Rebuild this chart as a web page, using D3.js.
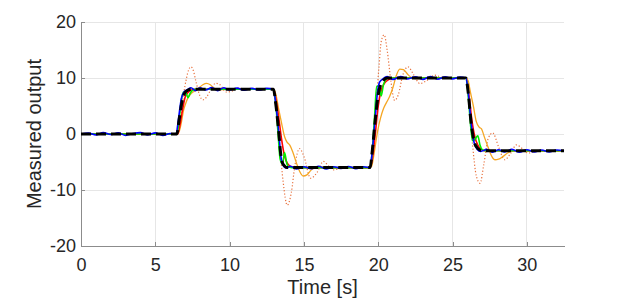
<!DOCTYPE html>
<html><head><meta charset="utf-8">
<script src="https://cdn.jsdelivr.net/npm/d3@7"></script>
<style>html,body{margin:0;padding:0;background:#fff;}svg{display:block;}</style>
</head><body>
<svg id="chart" width="623" height="301"></svg>
<script>
// ---- data ----
const xTicks = [0, 5, 10, 15, 20, 25, 30];
const yTicks = [-20, -10, 0, 10, 20];
const xLabel = "Time [s]";
const yLabel = "Measured output";

const refT = [0, 6.45, 6.6, 6.8, 7.0, 7.2, 7.5, 12.95, 13.1, 13.3, 13.45, 13.6, 13.9, 19.45, 19.6, 19.8, 20.0, 20.2, 20.6, 25.9, 26.05, 26.25, 26.45, 26.7, 27.0, 32.5];
const refY = [0, 0, 2.5, 5.8, 7.4, 7.85, 8, 8, 5.5, 0.5, -3.8, -5.4, -6, -6, -3, 2.5, 7, 9, 10, 10, 7.5, 2, -1.3, -2.6, -3, -3];

const measT = [0, 0.5, 1, 1.5, 2, 2.5, 3, 3.5, 4, 4.5, 5, 5.5, 6, 6.4, 6.55, 6.75, 6.95, 7.15, 7.4, 7.7, 8.0, 8.4, 8.8, 9.2, 9.6, 10.0, 10.5, 11, 11.5, 12, 12.5, 12.95, 13.1, 13.3, 13.45, 13.6, 13.8, 14.1, 14.5, 15, 15.5, 16, 16.5, 17, 17.5, 18, 18.5, 19, 19.45, 19.6, 19.8, 19.95, 20.1, 20.3, 20.6, 21, 21.5, 22, 22.5, 23, 23.5, 24, 24.5, 25, 25.5, 25.9, 26.05, 26.25, 26.45, 26.65, 26.9, 27.3, 27.7, 28.1, 28.5, 29, 29.5, 30, 30.5, 31, 31.5, 32, 32.5];
const measY = [0, 0.15, -0.15, 0.25, -0.1, 0.2, -0.25, 0.1, 0.25, -0.15, 0.2, -0.25, 0.1, 0, 2.5, 6.3, 7.6, 7.9, 8.25, 7.75, 8.25, 7.85, 8.3, 7.75, 8.25, 7.85, 8.2, 7.8, 8.15, 7.85, 8.15, 8, 5.5, 0.5, -4, -5.6, -6.1, -5.75, -6.25, -5.85, -6.2, -5.75, -6.25, -5.85, -6.15, -5.8, -6.2, -5.85, -6, -3, 3, 7.5, 9.3, 9.8, 10.25, 9.75, 10.25, 9.85, 10.2, 9.75, 10.25, 9.8, 10.2, 9.85, 10.15, 10, 7.5, 2, -1.5, -2.7, -3.1, -2.75, -3.25, -2.8, -3.2, -2.75, -3.25, -2.8, -3.2, -2.85, -3.2, -2.85, -3];

const redT = [0, 6.5, 6.65, 6.8, 7.0, 7.2, 7.4, 7.7, 12.95, 13.1, 13.3, 13.5, 13.7, 13.9, 14.2, 14.5, 19.45, 19.6, 19.8, 20.0, 20.2, 20.4, 20.7, 21.0, 25.9, 26.1, 26.3, 26.5, 26.7, 26.9, 27.2, 32.5];
const redY = [0, 0, 1.5, 3.8, 6.5, 7.4, 7.8, 8, 8, 6.5, 3, -1, -4, -5.3, -5.9, -6, -6, -4.5, 0, 5, 7.8, 9, 9.7, 10, 10, 7, 2.5, -0.5, -2, -2.7, -3, -3];

const greenT = [0, 6.45, 6.6, 6.75, 6.9, 7.05, 7.2, 7.35, 7.5, 7.7, 12.95, 13.1, 13.25, 13.4, 13.55, 13.7, 13.85, 14.0, 14.2, 19.45, 19.6, 19.75, 19.9, 20.05, 20.2, 20.35, 20.5, 20.7, 25.9, 26.05, 26.2, 26.35, 26.5, 26.7, 26.85, 27.0, 27.2, 32.5];
const greenY = [0, 0, 2.5, 6, 7.5, 7.4, 6.5, 7.3, 7.8, 8, 8, 5.5, 0.5, -4.5, -5.4, -3.3, -5.3, -5.9, -6, -6, -3, 3, 8.5, 8.6, 6.8, 8.8, 9.7, 10, 10, 7, 2, -1.2, -1.0, -0.3, -2.0, -2.8, -3, -3];

const orangeT = [0, 6.5, 6.6, 6.75, 6.9, 7.05, 7.2, 7.4, 7.6, 7.8, 8.0, 8.2, 8.45, 8.7, 8.95, 9.3, 9.8, 10.5,
  12.95, 13.1, 13.3, 13.5, 13.7, 13.85, 14.05, 14.25, 14.5, 14.7, 14.95, 15.2, 15.5, 15.8, 16.2, 16.8,
  19.45, 19.55, 19.75, 19.95, 20.15, 20.35, 20.55, 20.75, 21.0, 21.2, 21.45, 21.7, 22.0, 22.3, 22.7, 23.2,
  25.9, 26.05, 26.2, 26.4, 26.6, 26.8, 26.95, 27.15, 27.4, 27.6, 27.85, 28.1, 28.4, 28.7, 29.1, 29.6, 32.5];
const orangeY = [0, 0, 0.4, 2.0, 4.2, 5.5, 6.5, 7.2, 7.6, 7.9, 8.4, 8.8, 9.05, 8.8, 8.2, 7.9, 8.0, 8.0,
  8, 7.2, 4.5, 1.9, -0.5, -1.4, -2.0, -3.2, -5.2, -6.6, -7.5, -7.3, -6.4, -5.9, -5.9, -6,
  -6, -5.8, -3, 0.4, 2.8, 4.5, 5.6, 6.6, 8.4, 10.3, 11.6, 11.5, 10.6, 10.0, 9.9, 10,
  10, 9.5, 7.5, 5.0, 2.2, 1.2, 0.9, -0.6, -2.4, -3.8, -4.6, -4.5, -4.0, -3.4, -3.0, -3.0, -3];

const dotT = [0, 6.5, 6.7, 6.9, 7.1, 7.25, 7.4, 7.55, 7.75, 8.0, 8.2, 8.45, 8.75, 9.05, 9.35, 9.75, 10.1, 10.5, 10.9, 11.4,
  12.95, 13.15, 13.4, 13.6, 13.88, 14.15, 14.4, 14.7, 15.0, 15.45, 15.9, 16.3, 16.7, 17.0, 17.4, 18.0,
  19.45, 19.65, 19.85, 20.05, 20.2, 20.4, 20.6, 20.85, 21.1, 21.35, 21.65, 22.0, 22.4, 22.8, 23.3, 23.8, 24.3,
  25.9, 26.1, 26.35, 26.6, 26.85, 27.1, 27.4, 27.7, 28.1, 28.5, 28.9, 29.3, 29.7, 30.1, 30.5, 31, 32.5];
const dotY = [0, 0, 3, 7, 10, 11.5, 12.0, 11.4, 9.2, 6.8, 6.1, 6.6, 8.0, 9.05, 8.8, 7.5, 7.6, 8.2, 8.1, 8.0,
  8, 4, -3, -8.5, -12.7, -10.5, -5.5, -2.6, -4.0, -7.9, -6.8, -4.9, -5.8, -6.4, -6.2, -6,
  -6, -2, 5, 12, 16.5, 17.7, 15, 9.5, 6.0, 7.0, 10.5, 12.0, 10.5, 9.0, 9.6, 10.5, 10.1,
  10, 6, -2, -7.5, -8.8, -5.5, -0.8, 0.2, -2.3, -4.6, -3.5, -1.95, -2.6, -3.4, -3.2, -3, -3];

// ---- layout ----
const svg = d3.select("#chart");
const L = 81, R = 564, T = 22, B = 246;
const x = d3.scaleLinear().domain([0, 32.5]).range([L, R]);
const y = d3.scaleLinear().domain([-20, 20]).range([B, T]);
const font = "'Liberation Sans', Arial, Helvetica, sans-serif";
const txt = "#262626";

// grid
const g = svg.append("g");
g.selectAll(".gx").data(xTicks.filter(d => d > 0)).join("line")
  .attr("x1", d => x(d)).attr("x2", d => x(d)).attr("y1", T).attr("y2", B)
  .attr("stroke", "#e6e6e6").attr("stroke-width", 1).attr("shape-rendering", "crispEdges");
g.selectAll(".gy").data(yTicks.filter(d => d > -20)).join("line")
  .attr("x1", L).attr("x2", R).attr("y1", d => y(d)).attr("y2", d => y(d))
  .attr("stroke", "#e6e6e6").attr("stroke-width", 1).attr("shape-rendering", "crispEdges");

// axes
const fmt = d => String(d);
const xAxis = d3.axisBottom(x).tickValues(xTicks).tickFormat(fmt).tickSizeInner(-4).tickSizeOuter(0).tickPadding(25);
const yAxis = d3.axisLeft(y).tickValues(yTicks).tickFormat(fmt).tickSizeInner(-4).tickSizeOuter(0).tickPadding(5);
const gx = svg.append("g").attr("transform", `translate(0,${B})`).call(xAxis);
const gy = svg.append("g").attr("transform", `translate(${L},0)`).call(yAxis);
[gx, gy].forEach(a => {
  a.select(".domain").attr("stroke", "#8c8c8c").attr("shape-rendering", "crispEdges");
  a.selectAll(".tick line").attr("stroke", "#8c8c8c").attr("shape-rendering", "crispEdges");
  a.selectAll(".tick text").attr("fill", txt).style("font-family", font).style("font-size", "18px");
});
gx.selectAll(".tick text").attr("dy", "0");

// lines
const line = (ts, ys) => d3.line().x(i => x(ts[i])).y(i => y(ys[i])).curve(d3.curveMonotoneX)(d3.range(ts.length));
const clip = svg.append("clipPath").attr("id", "clp").append("rect")
  .attr("x", L).attr("y", T - 2).attr("width", R - L + 1).attr("height", B - T + 2);
const plot = svg.append("g").attr("clip-path", "url(#clp)");
plot.append("path").attr("d", line(dotT, dotY)).attr("fill", "none")
  .attr("stroke", "#e8703c").attr("stroke-width", 1.2).attr("stroke-dasharray", "1.2,2");
plot.append("path").attr("d", line(orangeT, orangeY)).attr("fill", "none")
  .attr("stroke", "#f5a623").attr("stroke-width", 1.3);
plot.append("path").attr("d", line(redT, redY)).attr("fill", "none")
  .attr("stroke", "#ff0000").attr("stroke-width", 1.6);
plot.append("path").attr("d", line(greenT, greenY)).attr("fill", "none")
  .attr("stroke", "#00ee00").attr("stroke-width", 1.6);
plot.append("path").attr("d", line(measT, measY)).attr("fill", "none")
  .attr("stroke", "#0000ff").attr("stroke-width", 1.6);
plot.append("path").attr("d", line(refT, refY)).attr("fill", "none")
  .attr("stroke", "#000000").attr("stroke-width", 3).attr("stroke-dasharray", "10,5");

// labels
svg.append("text").attr("x", (L + R) / 2).attr("y", 294).attr("text-anchor", "middle")
  .attr("fill", txt).style("font-family", font).style("font-size", "20px").text(xLabel);
svg.append("text").attr("transform", `translate(41,${(T + B) / 2}) rotate(-90)`).attr("text-anchor", "middle")
  .attr("fill", txt).style("font-family", font).style("font-size", "20px").text(yLabel);
</script>
</body></html>
